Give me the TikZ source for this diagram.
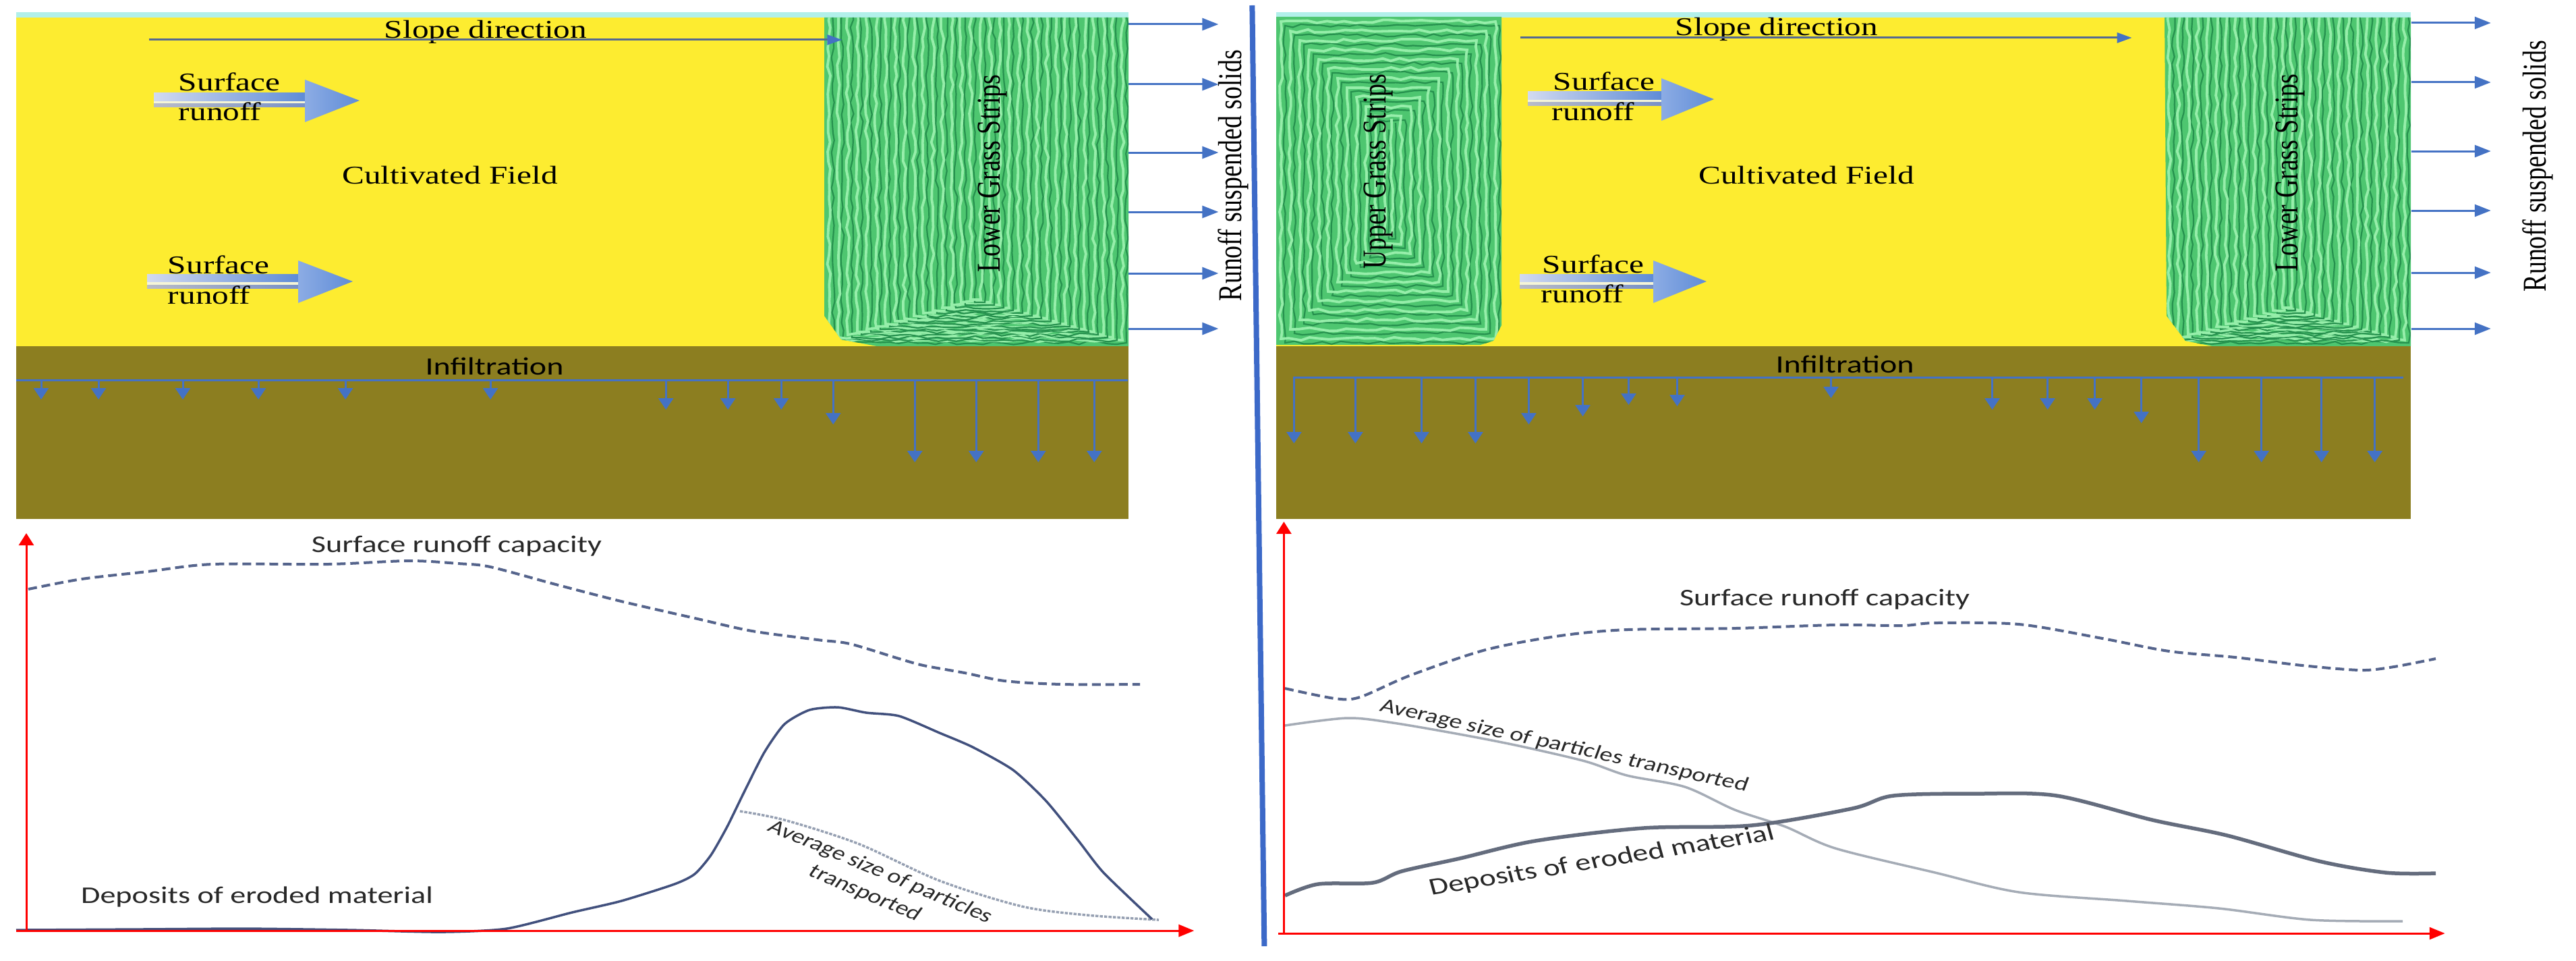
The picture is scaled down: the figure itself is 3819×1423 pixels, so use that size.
\documentclass[tikz,border=0pt]{standalone}
\usepackage{fontspec}
\setmainfont{Liberation Serif}
\newfontfamily\calibfont{Carlito}
\usetikzlibrary{arrows.meta,decorations.pathmorphing}

\definecolor{fieldyellow}{RGB}{253,236,48}
\definecolor{soil}{RGB}{140,126,32}
\definecolor{skyline}{RGB}{178,240,234}
\definecolor{grassbase}{RGB}{78,198,112}
\definecolor{grasslight}{RGB}{150,238,170}
\definecolor{grassdark}{RGB}{38,145,78}
\definecolor{flowblue}{RGB}{68,114,196}
\definecolor{dividerblue}{RGB}{60,105,200}
\definecolor{slopegray}{RGB}{85,105,145}
\definecolor{axisred}{RGB}{255,0,0}
\definecolor{capcurve}{RGB}{85,100,140}
\definecolor{depcurve}{RGB}{65,80,125}
\definecolor{depcurveR}{RGB}{100,108,125}
\definecolor{avgcurve}{RGB}{165,172,182}
\definecolor{avgcurveL}{RGB}{150,160,178}
\definecolor{chartink}{RGB}{40,40,40}
\definecolor{arrowlight}{RGB}{210,218,240}
\definecolor{arrowdeep}{RGB}{95,140,215}
\definecolor{headlight}{RGB}{140,172,228}
\definecolor{stripepale}{RGB}{245,245,215}
\definecolor{stripegrayL}{RGB}{185,188,200}
\definecolor{stripegrayR}{RGB}{120,145,200}

% #1 start x, #2 centre y, #3 head base x, #4 tip x
\newcommand\runoffarrow[4]{%
  \shade[left color=arrowlight, right color=arrowdeep] (#1,#2-11) rectangle (#3,#2+1);
  \fill[stripepale] (#1,#2+1) rectangle (#3,#2+5);
  \shade[left color=stripegrayL, right color=stripegrayR] (#1,#2+5) rectangle (#3,#2+10);
  \shade[left color=headlight, right color=arrowdeep] (#3,#2-31) -- (#4,#2) -- (#3,#2+32) -- cycle;
}
% nested U texture: #1 L, #2 T, #3 R, #4 B, #5 max k
\newcommand\grassU[5]{%
  \foreach \k in {0,...,#5} {
    \draw[grassdk] ({#1+13+\k*14},{#2-40}) -- ({#1+13+\k*14},{#4-5-\k*4}) -- ({#3-3-\k*14},{#4-5-\k*4}) -- ({#3-3-\k*14},{#2-40});
    \draw[grasslt] ({#1+7+\k*14},{#2-40}) -- ({#1+7+\k*14},{#4-9-\k*4}) -- ({#3-9-\k*14},{#4-9-\k*4}) -- ({#3-9-\k*14},{#2-40});
  }
}

\begin{document}
\begin{tikzpicture}[x=0.0769231mm, y=-0.1mm, xscale=1.3, transform shape,
  lbl/.style={font=\fontsize{10.8}{12}\selectfont, inner sep=0pt, text=black},
  inflbl/.style={font=\calibfont\fontsize{10.5}{12}\selectfont, inner sep=0pt, text=black},
  chlbl/.style={font=\calibfont\fontsize{10.1}{12}\selectfont, inner sep=0pt, text=chartink},
  avglbl/.style={font=\calibfont\fontsize{8.4}{10.4}\selectfont, inner sep=0pt, text=chartink, align=center},
  outarrow/.style={flowblue, line width=0.3mm, -{Triangle[length=2.4mm,width=1.8mm]}},
  infarrow/.style={flowblue, line width=0.3mm, -{Triangle[length=1.7mm,width=2.2mm]}},
  slopearrow/.style={slopegray, line width=0.3mm, -{Triangle[length=2.2mm,width=1.5mm,color=flowblue]}},
  infline/.style={flowblue, line width=0.3mm},
  yaxis/.style={axisred, line width=0.3mm, -{Triangle[length=1.8mm,width=2.2mm]}},
  xaxis/.style={axisred, line width=0.3mm, -{Triangle[length=2.3mm,width=1.8mm]}},
  capline/.style={capcurve, line width=0.4mm, dash pattern=on 1.3mm off 0.7mm},
  depline/.style={depcurve, line width=0.35mm},
  deplineR/.style={depcurveR, line width=0.55mm},
  avgline/.style={avgcurve, line width=0.35mm},
  avglineL/.style={avgcurveL, line width=0.35mm, dash pattern=on 0.45mm off 0.2mm},
  grasslt/.style={grasslight, line width=0.38mm, decorate, decoration={random steps, segment length=1.4mm, amplitude=0.25mm}},
  grassdk/.style={grassdark, line width=0.22mm, decorate, decoration={random steps, segment length=1.4mm, amplitude=0.25mm}},
  divider/.style={dividerblue, line width=0.8mm}
]
\pgfmathsetseed{4242}
\fill[white] (0,0) rectangle (3819,1423);
\useasboundingbox (0,0) rectangle (3819,1423);

% ---------- top strips ----------
\fill[skyline] (24,18) rectangle (1673,27);
\fill[skyline] (1892,18) rectangle (3574,27);
\fill[fieldyellow] (24,26) rectangle (1673,513);
\fill[fieldyellow] (1892,26) rectangle (3574,513);

% lower grass strip, left panel
\begin{scope}
  \path[clip] (1222,26) -- (1673,26) -- (1673,513) -- (1300,513) -- (1247,503) -- (1222,468) -- cycle;
  \fill[grassbase] (1200,0) rectangle (1700,520);
  \grassU{1222}{26}{1673}{513}{15}
\end{scope}
% upper grass strip, right panel
\begin{scope}
  \path[clip] (1892,25) -- (2226,25) -- (2226,482) -- (2214,505) -- (2195,511) -- (1892,511) -- cycle;
  \fill[grassbase] (1880,0) rectangle (2240,520);
  \foreach \k in {0,...,11} {
    \draw[grassdk] ({1892+13+\k*14},{25+13+\k*14}) rectangle ({2226-3-\k*14},{511-3-\k*14});
    \draw[grasslt] ({1892+7+\k*14},{25+7+\k*14}) rectangle ({2226-9-\k*14},{511-9-\k*14});
  }
\end{scope}
% lower grass strip, right panel
\begin{scope}
  \path[clip] (3209,26) -- (3574,26) -- (3574,513) -- (3280,513) -- (3240,505) -- (3212,468) -- cycle;
  \fill[grassbase] (3190,0) rectangle (3600,520);
  \grassU{3209}{26}{3574}{513}{12}
\end{scope}

% soil
\fill[soil] (24,513) rectangle (1673,769);
\fill[soil] (1892,513) rectangle (3574,769);

% ---------- left panel ----------
\node[lbl, anchor=base] (slopeL) at (720,57) {Slope direction};
\coordinate (slLs) at (221,59); \coordinate (slLe) at (1248,59);
\draw[slopearrow] (slLs) -- (slLe);

\runoffarrow{228}{149}{452}{533}
\node[lbl, anchor=base west] (surfLa) at (264,135) {Surface};
\node[lbl, anchor=base west] (runLa) at (264,179) {runoff};
\runoffarrow{218}{417}{442}{523}
\node[lbl, anchor=base west] (surfLb) at (248,405) {Surface};
\node[lbl, anchor=base west] (runLb) at (248,450) {runoff};

\node[lbl, anchor=base] (cultL) at (667,272) {Cultivated Field};
\node[lbl, rotate=90] (lgsL) at (1471,257) {Lower Grass Strips};
\node[lbl, rotate=90] (rssL) at (1828,260) {Runoff suspended solids};

\foreach \yy [count=\i] in {36,125,226,314,405,487} {
  \coordinate (roLs\i) at (1673,\yy); \coordinate (roLe\i) at (1806,\yy);
  \draw[outarrow] (roLs\i) -- (roLe\i);
}

\node[inflbl, anchor=base] (infL) at (733,555) {Infiltration};
\coordinate (ilLa) at (24,563); \coordinate (ilLb) at (1672,563);
\draw[infline] (ilLa) -- (ilLb);
\foreach \xx/\ee [count=\i] in {61/592,146/592,271/592,383/592,512/592,727/592,987/607,1079/607,1158/607,1235/629,1356/685,1447/685,1539/685,1622/685} {
  \coordinate (iaLs\i) at (\xx,563); \coordinate (iaLe\i) at (\xx,\ee);
  \draw[infarrow] (iaLs\i) -- (iaLe\i);
}

% ---------- right panel ----------
\node[lbl, anchor=base] (slopeR) at (2634,53) {Slope direction};
\coordinate (slRs) at (2254,56); \coordinate (slRe) at (3160,56);
\draw[slopearrow] (slRs) -- (slRe);

\runoffarrow{2265}{147}{2463}{2541}
\node[lbl, anchor=base west] (surfRa) at (2302,134) {Surface};
\node[lbl, anchor=base west] (runRa) at (2300,179) {runoff};
\runoffarrow{2253}{417}{2451}{2530}
\node[lbl, anchor=base west] (surfRb) at (2286,404) {Surface};
\node[lbl, anchor=base west] (runRb) at (2284,448) {runoff};

\node[lbl, anchor=base] (cultR) at (2678,272) {Cultivated Field};
\node[lbl, rotate=90] (ugsR) at (2043,254) {Upper Grass Strips};
\node[lbl, rotate=90] (lgsR) at (3395,256) {Lower Grass Strips};
\node[lbl, rotate=90] (rssR) at (3762,246) {Runoff suspended solids};

\foreach \yy [count=\i] in {34,122,224,312,404,487} {
  \coordinate (roRs\i) at (3574,\yy); \coordinate (roRe\i) at (3692,\yy);
  \draw[outarrow] (roRs\i) -- (roRe\i);
}

\node[inflbl, anchor=base] (infR) at (2735,552) {Infiltration};
\coordinate (ilRa) at (1917,559); \coordinate (ilRb) at (3562,559);
\draw[infline] (ilRa) -- (ilRb);
\foreach \xx/\ee [count=\i] in {1918/657,2009/657,2107/657,2187/657,2266/629,2346/617,2414/600,2486/602,2714/590,2953/607,3035/607,3105/607,3174/627,3259/685,3352/685,3441/685,3520/685} {
  \coordinate (iaRs\i) at (\xx,559); \coordinate (iaRe\i) at (\xx,\ee);
  \draw[infarrow] (iaRs\i) -- (iaRe\i);
}

% divider
\coordinate (dvTop) at (1856,8); \coordinate (dvBot) at (1874,1402);
\draw[divider] (dvTop) -- (dvBot);

% ---------- left chart ----------
\coordinate (oL) at (39,1379); \coordinate (yL) at (39,790);
\coordinate (x0L) at (24,1379); \coordinate (xL) at (1770,1379);
\draw[capline] plot[smooth, tension=0.5] coordinates {(42,873) (121,858) (218,847) (315,836) (485,836) (606,831) (679,835) (727,840) (824,866) (921,891) (1030,916) (1115,935) (1212,948) (1260,954) (1333,976) (1369,986) (1430,997) (1490,1009) (1575,1014) (1690,1014)};
\draw[avglineL] plot[smooth, tension=0.5] coordinates {(1097,1202) (1163,1215) (1272,1250) (1393,1305) (1515,1343) (1612,1356) (1718,1363)};
\draw[depline] plot[smooth, tension=0.4] coordinates {(24,1378) (200,1377) (364,1376) (520,1378) (654,1381) (751,1376) (848,1352) (921,1335) (1000,1310) (1030,1295) (1054,1267) (1078,1225) (1103,1174) (1133,1115) (1163,1073) (1200,1052) (1242,1048) (1284,1056) (1333,1061) (1393,1086) (1442,1107) (1502,1141) (1551,1187) (1599,1246) (1636,1293) (1708,1362)};
\draw[yaxis] (oL) -- (yL);
\draw[xaxis] (x0L) -- (xL);
\node[chlbl, anchor=base] (capL) at (677,818) {Surface runoff capacity};
\node[chlbl, anchor=base] (depL) at (381,1338) {Deposits of eroded material};
\node[avglbl, rotate=-28.7] (avgL) at (1294,1308) {Average size of particles\\transported};

% ---------- right chart ----------
\coordinate (oR) at (1903,1383); \coordinate (yR) at (1903,773);
\coordinate (x0R) at (1895,1383); \coordinate (xR) at (3624,1383);
\draw[capline] plot[smooth, tension=0.5] coordinates {(1905,1020) (1979,1035) (2016,1033) (2090,1001) (2202,963) (2313,942) (2412,933) (2572,931) (2721,926) (2820,927) (2869,923) (2993,925) (3117,946) (3216,965) (3314,974) (3413,986) (3500,993) (3549,988) (3611,976)};
\draw[avgline] plot[smooth, tension=0.5] coordinates {(1905,1075) (1997,1064) (2065,1071) (2164,1088) (2251,1105) (2350,1128) (2412,1149) (2498,1166) (2572,1200) (2647,1225) (2721,1257) (2869,1293) (2993,1322) (3154,1335) (3290,1346) (3426,1363) (3562,1365)};
\draw[deplineR] plot[smooth, tension=0.5] coordinates {(1905,1327) (1954,1310) (2035,1308) (2078,1291) (2164,1272) (2276,1246) (2436,1227) (2597,1223) (2746,1198) (2807,1179) (2931,1176) (3049,1179) (3191,1215) (3302,1238) (3438,1276) (3537,1293) (3611,1294)};
\draw[yaxis] (oR) -- (yR);
\draw[xaxis] (x0R) -- (xR);
\node[chlbl, anchor=base] (capR) at (2705,897) {Surface runoff capacity};
\node[avglbl, rotate=-15.9] (avgR) at (2319,1106) {Average size of particles transported};
\node[chlbl, rotate=11.9] (depR) at (2375,1276) {Deposits of eroded material};
\end{tikzpicture}
\end{document}
